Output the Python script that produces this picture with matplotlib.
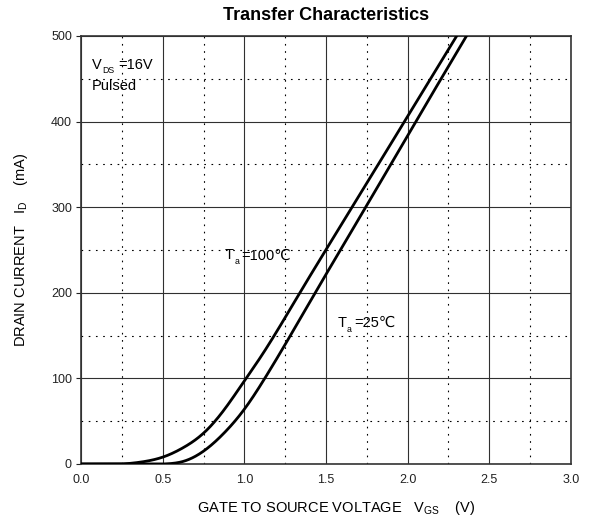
import numpy as np
import matplotlib
matplotlib.use("Agg")
import matplotlib.pyplot as plt
from matplotlib.ticker import MultipleLocator

FONTS = ["Liberation Sans", "DejaVu Sans"]
plt.rcParams["font.family"] = FONTS
plt.rcParams["mathtext.fontset"] = "custom"
plt.rcParams["mathtext.rm"] = "Liberation Sans"
plt.rcParams["mathtext.it"] = "Liberation Sans:italic"
plt.rcParams["mathtext.bf"] = "Liberation Sans:bold"

# (VGS in V, ID in mA)
vgs_100 = [0.0, 0.25, 0.375, 0.50, 0.625, 0.75, 0.875, 1.00, 1.10, 1.34,
           1.66, 1.98, 2.30]
id_100 = [0, 0, 2.5, 8, 19, 36, 63, 97, 125, 200, 300, 400, 500]

vgs_25 = [0.0, 0.50, 0.625, 0.75, 0.875, 1.00, 1.125, 1.434,
          1.743, 2.05, 2.36]
id_25 = [0, 0, 3, 15, 36, 64, 100, 200, 300, 400, 500]

x_ticks = [0.0, 0.5, 1.0, 1.5, 2.0, 2.5, 3.0]
y_ticks = [0, 100, 200, 300, 400, 500]


# natural cubic spline through the read points (smooth, C2)
def spline(x, y, xs):
    x = np.asarray(x, float)
    y = np.asarray(y, float)
    n = len(x)
    h = np.diff(x)
    A = np.zeros((n, n))
    b = np.zeros(n)
    A[0, 0] = A[-1, -1] = 1
    for i in range(1, n - 1):
        A[i, i - 1] = h[i - 1]
        A[i, i] = 2 * (h[i - 1] + h[i])
        A[i, i + 1] = h[i]
        b[i] = 6 * ((y[i + 1] - y[i]) / h[i] - (y[i] - y[i - 1]) / h[i - 1])
    M = np.linalg.solve(A, b)
    idx = np.clip(np.searchsorted(x, xs) - 1, 0, n - 2)
    x0, x1 = x[idx], x[idx + 1]
    hh = h[idx]
    out = (M[idx] * (x1 - xs) ** 3 / (6 * hh) + M[idx + 1] * (xs - x0) ** 3 / (6 * hh)
           + (y[idx] / hh - M[idx] * hh / 6) * (x1 - xs)
           + (y[idx + 1] / hh - M[idx + 1] * hh / 6) * (xs - x0))
    return np.clip(out, 0, None)


def sub_text(ax, x, y, main, sub, rest, fs=10.5, gap=5.5):
    t = ax.text(x, y, main, fontsize=fs, va="baseline")
    ax.annotate(sub, xy=(1, 0), xycoords=t, xytext=(0.3, -2.5),
                textcoords="offset points", fontsize=fs * 0.6, va="bottom")
    ax.annotate(rest, xy=(1, 0), xycoords=t, xytext=(gap, 0),
                textcoords="offset points", fontsize=fs, va="bottom")


fig = plt.figure(figsize=(5.91, 5.22), dpi=100)
ax = fig.add_axes([81 / 591, 1 - 464 / 522, 490 / 591, 428 / 522])

for vx, iy in [(vgs_100, id_100), (vgs_25, id_25)]:
    xs = np.linspace(vx[0], vx[-1], 600)
    ax.plot(xs, spline(vx, iy, xs), color="black", lw=2.0, zorder=3)

ax.set_xlim(0, 3.0)
ax.set_ylim(0, 500)
ax.set_xticks(x_ticks)
ax.set_xticklabels([f"{v:.1f}" for v in x_ticks])
ax.set_yticks(y_ticks)
ax.xaxis.set_minor_locator(MultipleLocator(0.25))
ax.yaxis.set_minor_locator(MultipleLocator(50))
ax.grid(which="major", color="#303030", lw=0.8)
ax.grid(which="minor", color="black", lw=0.8, linestyle=(0, (1.5, 5)))
ax.tick_params(which="minor", length=0)
ax.tick_params(axis="x", which="major", length=0, pad=7, labelsize=9, colors="#222")
ax.tick_params(axis="y", which="major", length=3.5, pad=3, labelsize=9, colors="#222")
for s in ax.spines.values():
    s.set_color("#333333")
    s.set_linewidth(1.2)

sub_text(ax, 0.065, 462, "V", "DS", "=16V", gap=12.5)
ax.text(0.065, 437, "Pulsed", fontsize=10.5, va="baseline")
sub_text(ax, 0.88, 239, "T", "a", "=100℃")
sub_text(ax, 1.57, 160, "T", "a", "=25℃")

fig.text(326 / 591, 1 - 16 / 522, "Transfer Characteristics", ha="center",
         va="center", fontsize=13, fontweight="bold")
fig.text(336 / 591, 1 - 508 / 522,
         r"GATE TO SOURCE VOLTAGE   V$_{\rm GS}$    (V)",
         ha="center", va="center", fontsize=10.5)
fig.text(21 / 591, 1 - 250 / 522,
         r"DRAIN CURRENT   I$_{\rm D}$    (mA)",
         ha="center", va="center", rotation=90, fontsize=10.5)

fig.savefig("out.png", dpi=100)
